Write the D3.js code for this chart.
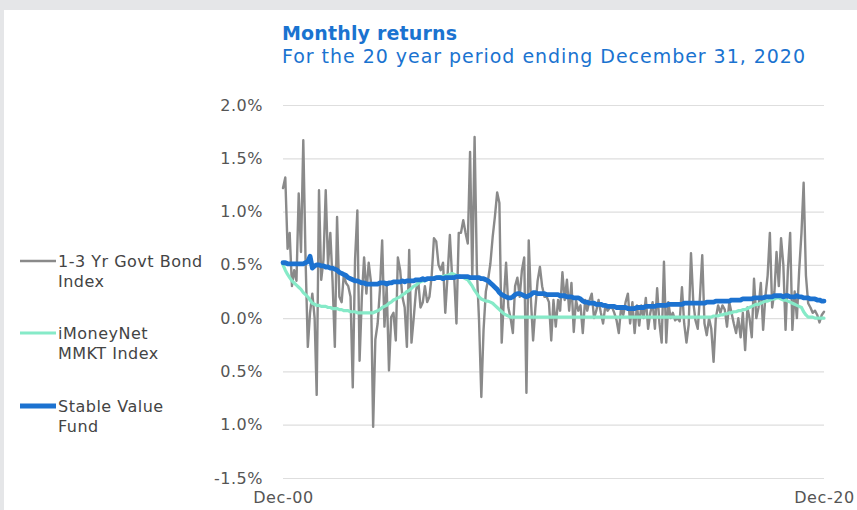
<!DOCTYPE html>
<html>
<head>
<meta charset="utf-8">
<script src="https://cdn.jsdelivr.net/npm/d3@7"></script>
<style>
  body { margin: 0; background: #e5e6e8; }
  svg { display: block; }
  text { font-family: "DejaVu Sans", sans-serif; }
</style>
</head>
<body>
<div id="chart"></div>
<script>
// monthly returns in %, Dec-00 .. Dec-20 (241 months)
var govtBond = [
  1.22, 1.32, 0.65, 0.80, 0.30, 0.45, 0.35, 1.17, 0.62, 1.67,
  0.57, -0.27, 0.05, 0.23, 0.00, -0.72, 1.20, 0.36, 0.55, 1.20,
  0.50, 0.80, 0.35, -0.27, 0.95, 0.20, 0.15, 0.40, 0.33, 0.30,
  0.20, -0.65, 0.55, 1.01, -0.40, 0.20, 0.57, 0.23, 0.52, 0.35,
  -1.02, -0.20, -0.05, 0.26, 0.73, -0.08, 0.30, -0.49, 0.01, 0.05,
  -0.21, 0.57, 0.45, 0.20, 0.10, -0.27, 0.64, -0.23, 0.00, 0.26,
  0.35, 0.10, 0.15, 0.30, 0.15, 0.20, 0.40, 0.75, 0.72, 0.50,
  0.45, 0.52, 0.05, 0.40, 0.78, 0.42, 0.38, -0.05, 0.80, 0.80,
  0.92, 0.80, 0.70, 1.56, 0.38, 1.70, 0.45, -0.02, -0.74, -0.11,
  0.25, 0.36, 0.51, 0.76, 0.95, 1.18, 1.08, -0.23, 0.20, 0.52,
  0.10, 0.00, -0.14, 0.30, 0.38, 0.20, 0.45, 0.57, -0.70, 0.73,
  0.15, -0.21, 0.10, 0.35, 0.48, 0.30, 0.20, 0.20, 0.15, -0.21,
  0.17, -0.08, 0.17, 0.07, 0.43, 0.17, 0.36, 0.07, 0.33, -0.13,
  0.17, 0.07, 0.12, -0.14, 0.17, 0.07, 0.17, 0.23, 0.00, 0.07,
  0.17, 0.05, -0.05, 0.12, 0.07, 0.10, 0.10, 0.05, -0.02, -0.14,
  0.10, 0.03, 0.15, 0.23, -0.05, 0.15, -0.14, 0.12, -0.07, 0.12,
  0.00, 0.19, -0.10, 0.05, 0.15, -0.10, 0.28, -0.05, -0.23, 0.53,
  -0.23, 0.15, 0.00, 0.05, -0.02, 0.00, -0.03, 0.29, -0.05, -0.23,
  -0.06, 0.61, 0.15, -0.02, -0.10, 0.20, 0.59, -0.05, -0.16, 0.00,
  -0.10, -0.41, 0.00, 0.12, 0.05, 0.12, 0.08, -0.08, 0.15, 0.05,
  -0.05, -0.14, 0.00, -0.18, 0.05, -0.30, 0.10, 0.00, -0.18, 0.37,
  0.00, 0.10, 0.33, -0.11, 0.20, 0.40, 0.80, 0.10, 0.25, 0.62,
  0.30, 0.75, 0.50, -0.11, 0.45, 0.80, -0.11, 0.25, 0.00, 0.45,
  0.80, 1.27, 0.40, 0.14, 0.10, 0.05, 0.07, 0.03, -0.04, 0.03,
  0.06
];

var mmkt = [
  0.50, 0.45, 0.41, 0.38, 0.35, 0.33, 0.31, 0.29, 0.27, 0.24,
  0.22, 0.20, 0.17, 0.14, 0.13, 0.12, 0.12, 0.11, 0.11, 0.11,
  0.10, 0.10, 0.09, 0.09, 0.09, 0.08, 0.08, 0.07, 0.07, 0.07,
  0.06, 0.06, 0.06, 0.05, 0.05, 0.05, 0.05, 0.05, 0.05, 0.05,
  0.05, 0.06, 0.07, 0.08, 0.10, 0.11, 0.12, 0.14, 0.15, 0.17,
  0.18, 0.19, 0.20, 0.22, 0.23, 0.25, 0.26, 0.28, 0.30, 0.31,
  0.33, 0.34, 0.35, 0.35, 0.36, 0.37, 0.37, 0.38, 0.38, 0.39,
  0.39, 0.39, 0.40, 0.40, 0.41, 0.42, 0.41, 0.40, 0.40, 0.39,
  0.38, 0.37, 0.36, 0.33, 0.30, 0.26, 0.23, 0.20, 0.18, 0.17,
  0.16, 0.16, 0.15, 0.14, 0.12, 0.10, 0.08, 0.06, 0.04, 0.03,
  0.02, 0.01, 0.01, 0.01, 0.01, 0.01, 0.01, 0.01, 0.01, 0.01,
  0.01, 0.01, 0.01, 0.01, 0.01, 0.01, 0.01, 0.01, 0.01, 0.01,
  0.01, 0.01, 0.01, 0.01, 0.01, 0.01, 0.01, 0.01, 0.01, 0.01,
  0.01, 0.01, 0.01, 0.01, 0.01, 0.01, 0.01, 0.01, 0.01, 0.01,
  0.01, 0.01, 0.01, 0.01, 0.01, 0.01, 0.01, 0.01, 0.01, 0.01,
  0.01, 0.01, 0.01, 0.01, 0.01, 0.01, 0.01, 0.01, 0.01, 0.01,
  0.01, 0.01, 0.01, 0.01, 0.01, 0.01, 0.01, 0.01, 0.01, 0.01,
  0.01, 0.01, 0.01, 0.01, 0.01, 0.01, 0.01, 0.01, 0.01, 0.01,
  0.01, 0.01, 0.01, 0.01, 0.01, 0.01, 0.01, 0.01, 0.01, 0.01,
  0.01, 0.02, 0.02, 0.02, 0.03, 0.03, 0.04, 0.04, 0.05, 0.05,
  0.06, 0.06, 0.07, 0.07, 0.08, 0.08, 0.09, 0.10, 0.11, 0.12,
  0.13, 0.13, 0.14, 0.15, 0.16, 0.16, 0.17, 0.18, 0.18, 0.19,
  0.19, 0.18, 0.17, 0.17, 0.16, 0.15, 0.14, 0.13, 0.12, 0.11,
  0.10, 0.06, 0.03, 0.01, 0.01, 0.01, 0.00, 0.00, 0.00, 0.00,
  0.00
];

var stableValue = [
  0.52, 0.52, 0.51, 0.51, 0.51, 0.51, 0.51, 0.51, 0.51, 0.51,
  0.52, 0.53, 0.58, 0.47, 0.49, 0.50, 0.50, 0.49, 0.49, 0.48,
  0.48, 0.47, 0.47, 0.46, 0.45, 0.43, 0.42, 0.41, 0.40, 0.38,
  0.37, 0.36, 0.35, 0.35, 0.34, 0.33, 0.33, 0.32, 0.32, 0.32,
  0.32, 0.32, 0.32, 0.33, 0.33, 0.33, 0.32, 0.33, 0.33, 0.34,
  0.34, 0.34, 0.34, 0.35, 0.34, 0.35, 0.35, 0.35, 0.35, 0.36,
  0.36, 0.36, 0.37, 0.36, 0.37, 0.37, 0.37, 0.37, 0.38, 0.38,
  0.38, 0.37, 0.38, 0.38, 0.38, 0.38, 0.38, 0.39, 0.39, 0.39,
  0.39, 0.39, 0.39, 0.38, 0.38, 0.38, 0.38, 0.38, 0.37, 0.37,
  0.36, 0.35, 0.33, 0.31, 0.29, 0.27, 0.24, 0.22, 0.21, 0.20,
  0.19, 0.19, 0.20, 0.22, 0.23, 0.23, 0.22, 0.21, 0.20, 0.21,
  0.22, 0.24, 0.24, 0.23, 0.23, 0.23, 0.23, 0.22, 0.22, 0.22,
  0.22, 0.22, 0.22, 0.21, 0.21, 0.21, 0.20, 0.20, 0.20, 0.19,
  0.19, 0.19, 0.18, 0.16, 0.15, 0.15, 0.14, 0.14, 0.14, 0.13,
  0.13, 0.13, 0.12, 0.12, 0.11, 0.11, 0.11, 0.11, 0.10, 0.10,
  0.10, 0.10, 0.10, 0.09, 0.09, 0.09, 0.09, 0.10, 0.10, 0.10,
  0.10, 0.11, 0.11, 0.11, 0.11, 0.11, 0.12, 0.12, 0.12, 0.12,
  0.12, 0.13, 0.13, 0.13, 0.13, 0.13, 0.13, 0.13, 0.14, 0.14,
  0.14, 0.14, 0.14, 0.14, 0.14, 0.14, 0.14, 0.14, 0.15, 0.15,
  0.15, 0.15, 0.16, 0.16, 0.16, 0.16, 0.16, 0.16, 0.16, 0.17,
  0.17, 0.17, 0.17, 0.17, 0.18, 0.18, 0.18, 0.18, 0.18, 0.19,
  0.19, 0.19, 0.19, 0.19, 0.20, 0.20, 0.20, 0.20, 0.21, 0.21,
  0.21, 0.21, 0.20, 0.21, 0.21, 0.20, 0.20, 0.20, 0.21, 0.20,
  0.20, 0.19, 0.19, 0.19, 0.18, 0.18, 0.18, 0.17, 0.17, 0.16,
  0.16
];

var yTicks = [2.0, 1.5, 1.0, 0.5, 0.0, -0.5, -1.0, -1.5];
var yTickLabels = ["2.0%", "1.5%", "1.0%", "0.5%", "0.0%", "0.5%", "1.0%", "-1.5%"];

var seriesNames = [["1-3 Yr Govt Bond", "Index"], ["iMoneyNet", "MMKT Index"], ["Stable Value", "Fund"]];
var seriesColors = ["#8a8a8a", "#86eac8", "#1c72d0"];
var seriesWidths = [2.4, 3.2, 4.8];

var W = 857, H = 510;
const margin = {top: 105, right: 33, bottom: 32, left: 283},
  w = W - margin.left - margin.right,
  h = H - margin.top - margin.bottom;

var startDate = new Date(Date.UTC(2000, 11, 1));
var dates = govtBond.map(function(d, i) { return d3.utcMonth.offset(startDate, i); });

var svg = d3.select("#chart").append("svg")
  .attr("width", W)
  .attr("height", H);

// white panel inside the grey frame
svg.append("rect")
  .attr("x", 4).attr("y", 10)
  .attr("width", W - 4).attr("height", H - 10)
  .attr("fill", "#ffffff");

// title
svg.append("text")
  .attr("x", 282).attr("y", 40)
  .attr("textLength", 175).attr("lengthAdjust", "spacing")
  .style("font-size", "19px").style("font-weight", "bold")
  .attr("fill", "#1a73d0")
  .text("Monthly returns");
svg.append("text")
  .attr("x", 282).attr("y", 63)
  .attr("textLength", 523).attr("lengthAdjust", "spacing")
  .style("font-size", "19px")
  .attr("fill", "#1a73d0")
  .text("For the 20 year period ending December 31, 2020");

var g = svg.append("g")
  .attr("transform", "translate(" + margin.left + "," + margin.top + ")");

var xScale = d3.scaleUtc().domain([dates[0], dates[dates.length - 1]]).range([0, w]);
var yScale = d3.scaleLinear().domain([-1.5, 2.0]).range([h, 0]);

// y axis with gridlines
var yAxis = d3.axisLeft(yScale)
  .tickValues(yTicks)
  .tickSize(-w)
  .tickPadding(20)
  .tickFormat(function(d, i) { return yTickLabels[i]; });

var gY = g.append("g").attr("class", "axis y-axis").call(yAxis);
gY.select(".domain").remove();
gY.selectAll(".tick line").attr("stroke", "#dedede").attr("stroke-width", 1.2);
gY.selectAll(".tick text")
  .attr("fill", "#555555")
  .style("font-size", "16px")
  .style("font-family", "DejaVu Sans, sans-serif")
  .style("letter-spacing", "0.5px");

// x axis: only first and last month
var xAxis = d3.axisBottom(xScale)
  .tickValues([dates[0], dates[dates.length - 1]])
  .tickSize(0)
  .tickPadding(14)
  .tickFormat(d3.utcFormat("%b-%y"));

var gX = g.append("g").attr("class", "axis x-axis")
  .attr("transform", "translate(0," + h + ")")
  .call(xAxis);
gX.select(".domain").remove();
gX.selectAll(".tick text")
  .attr("fill", "#555555")
  .style("font-size", "16px")
  .style("font-family", "DejaVu Sans, sans-serif")
  .style("letter-spacing", "0.6px");

// lines
var allSeries = [govtBond, mmkt, stableValue];
var line = d3.line()
  .x(function(d, i) { return xScale(dates[i]); })
  .y(function(d) { return yScale(d); });

allSeries.forEach(function(s, k) {
  g.append("path")
    .datum(s)
    .attr("fill", "none")
    .attr("stroke", seriesColors[k])
    .attr("stroke-width", seriesWidths[k])
    .attr("stroke-linejoin", "round")
    .attr("stroke-linecap", "round")
    .attr("d", line);
});

// legend
var legendY = [261, 333, 406];
var legend = svg.append("g").attr("class", "legend");
seriesNames.forEach(function(lines, k) {
  legend.append("line")
    .attr("x1", 20).attr("x2", 56)
    .attr("y1", legendY[k]).attr("y2", legendY[k])
    .attr("stroke", seriesColors[k])
    .attr("stroke-width", seriesWidths[k]);
  var t = legend.append("text")
    .attr("x", 58).attr("y", legendY[k] + 6)
    .attr("fill", "#444444")
    .style("font-size", "16px")
    .style("letter-spacing", "0.5px");
  lines.forEach(function(l, j) {
    t.append("tspan").attr("x", 58).attr("dy", j === 0 ? 0 : 19.5).text(l);
  });
});
</script>
</body>
</html>
